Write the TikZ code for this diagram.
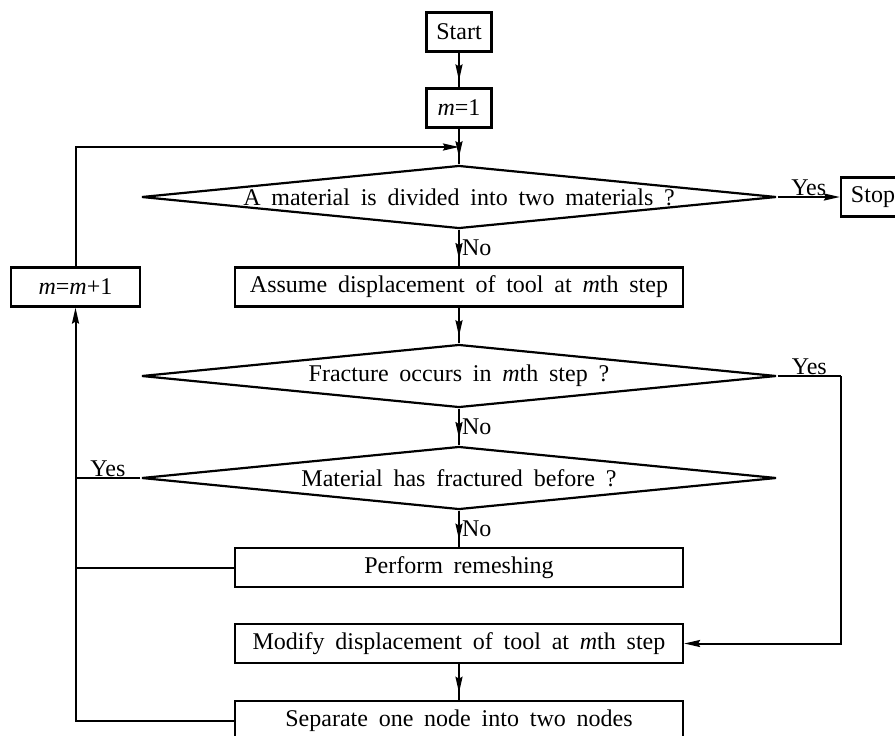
\documentclass[tikz,border=0pt]{standalone}
\usepackage{fontspec}
\setmainfont{Liberation Serif}
\usetikzlibrary{arrows.meta,shapes.geometric,decorations.markings}
\newcommand\flowfont{\fontsize{12}{14}\selectfont\spaceskip=0.45em\relax}
\begin{document}
\begin{tikzpicture}[
  x=0.5pt, y=-0.5pt,
  every node/.style={font=\flowfont},
  box/.style={draw, line width=1.1pt, inner sep=0pt, minimum width=224pt, minimum height=19.5pt},
  small/.style={box, minimum width=32.5pt},
  ask/.style={draw, diamond, aspect=10, line width=1.1pt, inner xsep=-12pt, inner ysep=0pt, minimum width=317.5pt, minimum height=31.5pt},
  arr/.style={line width=1pt, -{Stealth[length=8pt,width=3.5pt,inset=1pt]}},
  midarr/.style={line width=1pt, decoration={markings, mark=at position 0.8 with {\arrow{Stealth[length=8pt,width=3.5pt,inset=1pt]}}}, postaction={decorate}},
  line/.style={line width=1pt}
]
\useasboundingbox (0,0) rectangle (895,735);
\node[small] (start) at (459,32) {Start};
\node[small] (init) at (459,108) {\textit{m}=1};
\node[ask] (split) at (459,197) {A material is divided into two materials ?};
\node[small, minimum width=32pt] (stop) at (873,197) {Stop};
\node[box] (assume) at (459,287) {Assume displacement of tool at \textit{m}th step};
\node[box, minimum width=64.5pt] (incr) at (75.5,287) {\textit{m}=\textit{m}+1};
\node[ask] (frac) at (459,376) {Fracture occurs in \textit{m}th step ?};
\node[ask] (before) at (459,478) {Material has fractured before ?};
\node[box] (remesh) at (459,567.5) {Perform remeshing};
\node[box] (modify) at (459,643.5) {Modify displacement of tool at \textit{m}th step};
\node[box] (separate) at (459,720.5) {Separate one node into two nodes};
\coordinate (loopin) at (459,147);
\coordinate (yesturn) at (841,376);
\draw[midarr] (start) -- (init);
\draw[midarr] (init) -- (split);
\draw[midarr] (split) -- node[right, inner sep=1pt] {No} (assume);
\draw[midarr] (assume) -- (frac);
\draw[midarr] (frac) -- node[right, inner sep=1pt] {No} (before);
\draw[midarr] (before) -- node[right, inner sep=1pt] {No} (remesh);
\draw[midarr] (modify) -- (separate);
\draw[arr] (split) -- node[above, inner sep=0pt] {Yes} (stop);
\draw[line] (frac) -- node[above, inner sep=0pt] {Yes} (yesturn);
\draw[arr] (yesturn) |- (modify);
\draw[line] (before) -- node[above, inner sep=0pt] {Yes} (before -| incr);
\draw[line] (remesh) -- (remesh -| incr);
\draw[arr] (separate) -| (incr);
\draw[arr] (incr) |- (loopin);
\end{tikzpicture}
\end{document}
